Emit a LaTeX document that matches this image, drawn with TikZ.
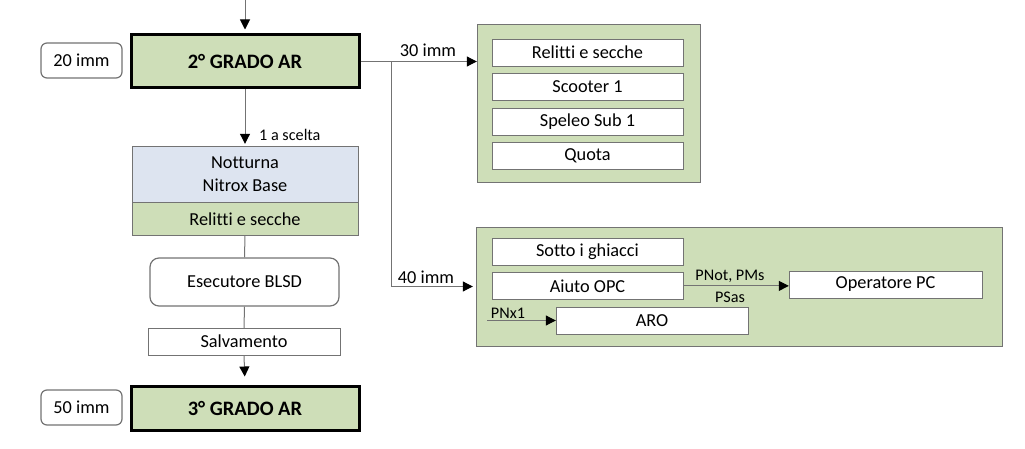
\documentclass[tikz,border=0pt]{standalone}
\usepackage{fontspec}
\setmainfont[Ligatures=NoCommon]{Carlito}
\usetikzlibrary{arrows.meta,positioning}

\definecolor{levelgreen}{RGB}{206,222,184}
\definecolor{levelblue}{RGB}{221,228,240}
\definecolor{linegray}{RGB}{115,115,115}

\tikzset{
  basebox/.style={draw=linegray, fill=white, inner sep=0pt, align=center,
    font=\fontsize{18.3}{23}\selectfont},
  level/.style={basebox, draw=black, line width=3pt, fill=levelgreen,
    minimum width=228, font=\fontsize{20.5}{24}\selectfont\bfseries},
  immbox/.style={basebox, line width=1.2pt, rounded corners=6pt,
    minimum width=81, minimum height=35},
  course/.style={basebox, minimum width=191, minimum height=27},
  group/.style={basebox, fill=levelgreen},
  lbl/.style={inner sep=0pt, font=\fontsize{18.3}{22}\selectfont},
  smalllbl/.style={inner sep=0pt, font=\fontsize{16.2}{19}\selectfont},
  conn/.style={draw=linegray, line width=1pt,
    -{Triangle[length=10pt, width=10pt, black]}, shorten >=2pt},
  plain/.style={draw=linegray, line width=1pt}
}

\begin{document}
\begin{tikzpicture}[x=1pt, y=-1pt]
\useasboundingbox (0,0) rectangle (1025,449);

% Levels
\node[level, minimum height=53] (grado2) at (245,61.5) {2° GRADO AR};
\node[level, minimum height=44] (grado3) at (245,408) {3° GRADO AR};
\node[immbox] (imm20) at (81.5,60.5) {20 imm};
\node[immbox] (imm50) at (81.5,407.5) {50 imm};

% Specialties, 1 a scelta
\node[basebox, fill=levelblue, minimum width=226, minimum height=56]
        (notturna) at (245,174) {Notturna\\Nitrox Base};
\node[basebox, fill=levelgreen, minimum width=226, minimum height=33,
        below=0pt of notturna] (relitti) {Relitti e secche};
\node[basebox, line width=1.2pt, rounded corners=9pt, minimum width=189, minimum height=48]
        (blsd) at (244.5,282) {Esecutore BLSD};
\node[basebox, minimum width=192, minimum height=27]
        (salv) at (244,341.5) {Salvamento};

% 30 imm
\node[group, minimum width=223, minimum height=158] (corso30) at (588.5,103) {};
\node[course] (relitti30) at (587.5,52.5) {Relitti e secche};
\node[course, below=7pt of relitti30] (scooter) {Scooter 1};
\node[course, below=7pt of scooter] (speleo) {Speleo Sub 1};
\node[course, below=7pt of speleo] (quota) {Quota};

% 40 imm
\node[group, minimum width=526, minimum height=119] (corso40) at (739,286.5) {};
\node[course] (ghiacci) at (587.5,251.5) {Sotto i ghiacci};
\node[course, below=7pt of ghiacci] (aiuto) {Aiuto OPC};
\node[course, minimum width=192] (aro) at (652,320.5) {ARO};
\node[course, minimum width=193] (opc) at (885.5,284.5) {Operatore PC};

% Labels
\node[smalllbl, anchor=west] (scelta) at (259,135) {1 a scelta};
\node[lbl] (lbl30) at (428,50) {30 imm};
\node[lbl] (lbl40) at (426,277) {40 imm};
\node[smalllbl] (pnot) at (730,276) {PNot, PMs};
\node[smalllbl] (psas) at (730,297) {PSas};
\node[smalllbl] (pnx) at (508,313) {PNx1};

% Connections
\coordinate (top) at (grado2.north |- 0,0);
\coordinate (split) at (391,61.5);
\coordinate (pnxstart) at (487,320.5);

\draw[conn, shorten >=4pt] (top) -- (grado2.north);
\draw[conn] (grado2.south) -- (notturna.north);
\draw[plain] (relitti.south) -- (blsd.north);
\draw[plain] (blsd.south) -- (salv.north);
\draw[conn, shorten >=8pt] (salv.south) -- (grado3.north);

\draw[conn, shorten >=0pt] (grado2.east) -- (corso30.west |- grado2.east);
\draw[conn, shorten >=3pt] (split) |- (corso40.west);
\draw[conn, shorten >=0pt] (aiuto.east) -- (aiuto.east -| opc.west);
\draw[conn, shorten >=0pt] (pnxstart) -- (aro.west);

\end{tikzpicture}
\end{document}
